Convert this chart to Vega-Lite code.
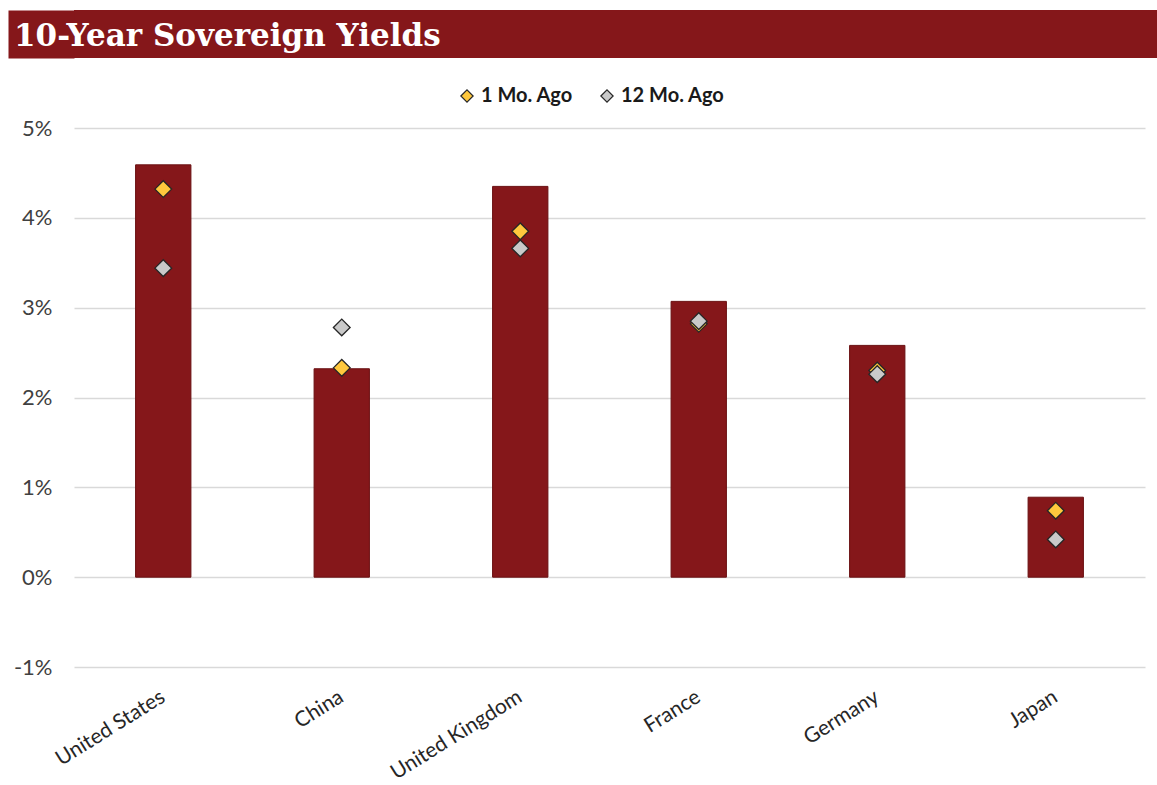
{
  "$schema": "https://vega.github.io/schema/vega-lite/v6.json",
  "background": "white",
  "padding": {"left": 13, "top": 10, "right": 0, "bottom": 0},
  "config": {"view": {"stroke": null}, "font": "Lato"},
  "datasets": {
    "bars": [
      {"country": "United States", "yield": 4.59},
      {"country": "China", "yield": 2.32},
      {"country": "United Kingdom", "yield": 4.35},
      {"country": "France", "yield": 3.07},
      {"country": "Germany", "yield": 2.58},
      {"country": "Japan", "yield": 0.89}
    ],
    "points": [
      {"country": "United States", "series": "1 Mo. Ago", "yield": 4.32},
      {"country": "China", "series": "1 Mo. Ago", "yield": 2.33},
      {"country": "United Kingdom", "series": "1 Mo. Ago", "yield": 3.85},
      {"country": "France", "series": "1 Mo. Ago", "yield": 2.82},
      {"country": "Germany", "series": "1 Mo. Ago", "yield": 2.30},
      {"country": "Japan", "series": "1 Mo. Ago", "yield": 0.74},
      {"country": "United States", "series": "12 Mo. Ago", "yield": 3.44},
      {"country": "China", "series": "12 Mo. Ago", "yield": 2.78},
      {"country": "United Kingdom", "series": "12 Mo. Ago", "yield": 3.66},
      {"country": "France", "series": "12 Mo. Ago", "yield": 2.85},
      {"country": "Germany", "series": "12 Mo. Ago", "yield": 2.26},
      {"country": "Japan", "series": "12 Mo. Ago", "yield": 0.42}
    ]
  },
  "concat": [
    {
      "width": 1083,
      "height": 48,
      "view": {"fill": "#85171a", "stroke": null},
      "title": {
        "text": "10-Year Sovereign Yields",
        "anchor": "start",
        "frame": "group",
        "orient": "bottom",
        "baseline": "alphabetic",
        "offset": -12,
        "dx": -60,
        "font": "DejaVu Serif",
        "fontSize": 31,
        "fontWeight": "bold",
        "color": "white"
      },
      "data": {"values": []},
      "mark": "point",
      "encoding": {
        "y": {
          "field": "v",
          "type": "quantitative",
          "scale": {"domain": [0, 1]},
          "axis": {
            "title": null,
            "labels": false,
            "ticks": false,
            "grid": false,
            "domain": true,
            "domainColor": "#85171a",
            "domainWidth": 66,
            "domainCap": "butt",
            "offset": 33
          }
        }
      }
    },
    {
      "width": 1071,
      "height": 539,
      "layer": [
        {
          "data": {"name": "bars"},
          "mark": {"type": "bar", "color": "#85171a", "stroke": "#6a1012", "strokeWidth": 1},
          "encoding": {
            "x": {
              "field": "country",
              "type": "nominal",
              "sort": null,
              "scale": {"paddingInner": 0.69, "paddingOuter": 0.345},
              "axis": {
                "title": null,
                "labelAngle": -32,
                "labelAlign": "right",
                "labelBaseline": "middle",
                "labelFontSize": 21,
                "labelColor": "#262626",
                "labelPadding": 28,
                "ticks": false,
                "domain": false
              }
            },
            "y": {
              "field": "yield",
              "type": "quantitative",
              "scale": {"domain": [-1, 5], "nice": false},
              "axis": {
                "title": null,
                "values": [-1, 0, 1, 2, 3, 4, 5],
                "labelExpr": "datum.value + '%'",
                "labelFontSize": 22,
                "labelColor": "#404040",
                "labelPadding": 22,
                "ticks": false,
                "domain": false,
                "gridColor": "#d9d9d9",
                "gridWidth": 1.5
              }
            }
          }
        },
        {
          "data": {"name": "points"},
          "mark": {"type": "point", "shape": "diamond", "filled": true, "size": 280, "stroke": "#262626", "strokeWidth": 1.3, "opacity": 1},
          "encoding": {
            "x": {"field": "country", "type": "nominal", "sort": null},
            "y": {"field": "yield", "type": "quantitative"},
            "color": {
              "field": "series",
              "type": "nominal",
              "scale": {"domain": ["1 Mo. Ago", "12 Mo. Ago"], "range": ["#ffc83d", "#c9c9c9"]},
              "legend": {
                "title": null,
                "orient": "none",
                "direction": "horizontal",
                "legendX": 383,
                "legendY": -42,
                "symbolType": "diamond",
                "symbolSize": 150,
                "symbolStrokeColor": "#262626",
                "symbolStrokeWidth": 1.2,
                "labelFontSize": 20,
                "labelFontWeight": "bold",
                "labelColor": "#1a1a1a",
                "columnPadding": 24,
                "symbolOffset": 0
              }
            }
          }
        }
      ]
    }
  ],
  "columns": 1,
  "spacing": 28,
  "resolve": {"legend": {"color": "independent"}, "scale": {"color": "independent"}}
}
